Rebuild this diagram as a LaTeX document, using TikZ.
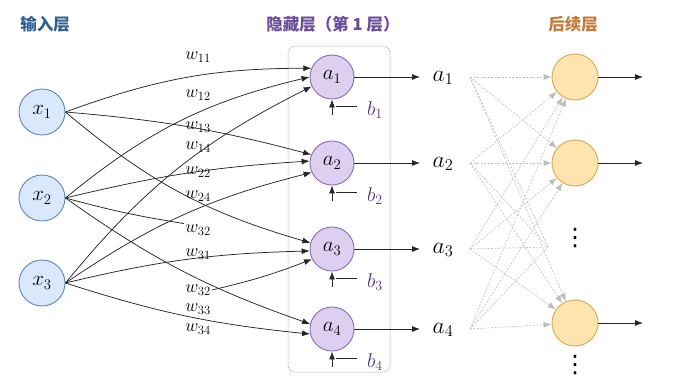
\RequirePackage{fix-cm}
\documentclass[tikz,border=0pt]{standalone}
\usepackage{fontspec}
\newfontfamily\cjk{Noto Sans CJK SC}
\newfontfamily\dejavu{DejaVu Sans}
\usetikzlibrary{arrows.meta}
\definecolor{inpfill}{HTML}{DAE8FC}
\definecolor{inpdraw}{HTML}{5B84B8}
\definecolor{hidfill}{HTML}{DDCFF0}
\definecolor{hiddraw}{HTML}{8A6AB5}
\definecolor{nxtfill}{HTML}{FFE4AD}
\definecolor{nxtdraw}{HTML}{D6A855}
\definecolor{tblue}{HTML}{2F5F8F}
\definecolor{tpurple}{HTML}{6B4C9A}
\definecolor{torange}{HTML}{C27A3A}
\definecolor{bpurple}{HTML}{4E3282}
\definecolor{edgecol}{HTML}{262626}
\definecolor{dashcol}{HTML}{BDBDBD}
\begin{document}
\begin{tikzpicture}[x=1pt,y=-1pt,
  inp/.style={circle, draw=inpdraw, fill=inpfill, line width=0.9pt, minimum size=46pt, inner sep=0pt, font=\fontsize{21}{24}\selectfont},
  hid/.style={circle, draw=hiddraw, fill=hidfill, line width=0.9pt, minimum size=44pt, inner sep=0pt, font=\fontsize{21}{24}\selectfont},
  nxt/.style={circle, draw=nxtdraw, fill=nxtfill, line width=0.9pt, minimum size=46pt, inner sep=0pt},
  wlab/.style={inner sep=1pt, font=\fontsize{18}{20}\selectfont},
  outlab/.style={inner sep=1pt, font=\fontsize{23.5}{26}\selectfont},
  blab/.style={inner sep=1pt, text=bpurple, font=\fontsize{20}{22}\selectfont},
  title/.style={inner sep=1pt, font=\cjk\bfseries\fontsize{16.5}{18}\selectfont},
  tip/.style={-{Latex[length=8pt,width=6pt]}},
  edge/.style={draw=edgecol, line width=0.75pt, tip},
  plain/.style={draw=edgecol, line width=0.75pt},
  gdash/.style={draw=dashcol, line width=0.6pt, dash pattern=on 2pt off 1.5pt},
  gdasharr/.style={gdash, -{Latex[length=8pt,width=6pt,fill=dashcol]}},
  boxst/.style={draw=black!45, line width=0.5pt, dash pattern=on 1pt off 1pt, rounded corners=7pt},
  dotsst/.style={inner sep=0pt, font=\dejavu\fontsize{24}{24}\selectfont}
]
\useasboundingbox (0,0) rectangle (676,378);

% titles
\node[title, text=tblue] (tin) at (45,24) {输入层};
\node[title, text=tpurple] (thid) at (333,24) {隐藏层（第 1 层）};
\node[title, text=torange] (tnxt) at (573,24) {后续层};

% hidden layer frame
\draw[boxst] (288,46) rectangle (390,372);

% input nodes
\node[inp] (x1) at (42,112) {$x_1$};
\node[inp] (x2) at (42,198) {$x_2$};
\node[inp] (x3) at (42,283) {$x_3$};

% hidden nodes
\node[hid] (h1) at (332,77) {$a_1$};
\node[hid] (h2) at (332,163) {$a_2$};
\node[hid] (h3) at (332,249) {$a_3$};
\node[hid] (h4) at (332,329) {$a_4$};

% weight labels
\node[wlab] (w11) at (198,57) {$w_{11}$};
\node[wlab] (w12) at (198,95) {$w_{12}$};
\node[wlab] (w13) at (198,127) {$w_{13}$};
\node[wlab] (w14) at (198,147) {$w_{14}$};
\node[wlab] (w22) at (198,172) {$w_{22}$};
\node[wlab] (w24) at (198,196) {$w_{24}$};
\node[wlab] (w32a) at (198,230) {$w_{32}$};
\node[wlab] (w31) at (198,254) {$w_{31}$};
\node[wlab] (w32b) at (198,290) {$w_{32}$};
\node[wlab] (w33) at (198,309) {$w_{33}$};
\node[wlab] (w34) at (198,329) {$w_{34}$};

% input -> hidden connections
\draw[edge] (x1.east) to[bend left=10] (h1.157);
\draw[edge] (x2.east) to[bend left=13] (h1.180);
\draw[edge] (x3.east) to[bend left=12] (h1.205);
\draw[edge] (x1.east) to[bend left=5] (h2.158);
\draw[edge] (x2.east) to[bend left=5] (h2.175);
\draw[edge] (x3.east) to[bend left=10] (h2.205);
\draw[edge] (x1.east) to[bend right=12] (h3.164);
\draw[edge] (x3.east) to[bend left=6] (h3.185);
\draw[plain] (x2.east) to[bend right=3] (w32a.north west);
\draw[edge] (w32b.east) to[bend right=4] (h3.207);
\draw[edge] (x2.east) to[bend right=8] (h4.167);
\draw[edge] (x3.east) to[bend right=6] (h4.193);

% biases and outputs of the hidden layer
\foreach \i/\y in {1/77,2/163,3/249,4/329}{
  \coordinate (bb\i) at (332,\y+38);
  \coordinate (bl\i) at (336,\y+29);
  \coordinate (br\i) at (357,\y+29);
  \draw[edge] (bb\i) -- (h\i.south);
  \draw[plain] (br\i) -- (bl\i);
  \node[blab] (b\i) at (375,\y+33) {$b_\i$};
  \coordinate (t\i) at (420,\y);
  \draw[edge] (h\i.east) -- (t\i);
  \node[outlab] (o\i) at (443,\y+1) {$a_\i$};
  \coordinate (s\i) at (470,\y);
}

% next layer
\node[nxt] (n1) at (575,77) {};
\node[nxt] (n2) at (575,163) {};
\node[nxt] (n3) at (575,323) {};
\coordinate (nd) at (548,247);
\node[dotsst] (d1) at (575,238) {⋮};
\node[dotsst] (d2) at (575,365) {⋮};

\foreach \i in {1,2,3,4}{
  \draw[gdasharr] (s\i) -- (n1);
  \draw[gdasharr] (s\i) -- (n2);
  \draw[gdash] (s\i) -- (nd);
  \draw[gdasharr] (s\i) -- (n3);
}

\coordinate (u1) at (643,77);
\coordinate (u2) at (643,163);
\coordinate (u3) at (643,323);
\draw[edge] (n1.east) -- (u1);
\draw[edge] (n2.east) -- (u2);
\draw[edge] (n3.east) -- (u3);
\end{tikzpicture}
\end{document}
